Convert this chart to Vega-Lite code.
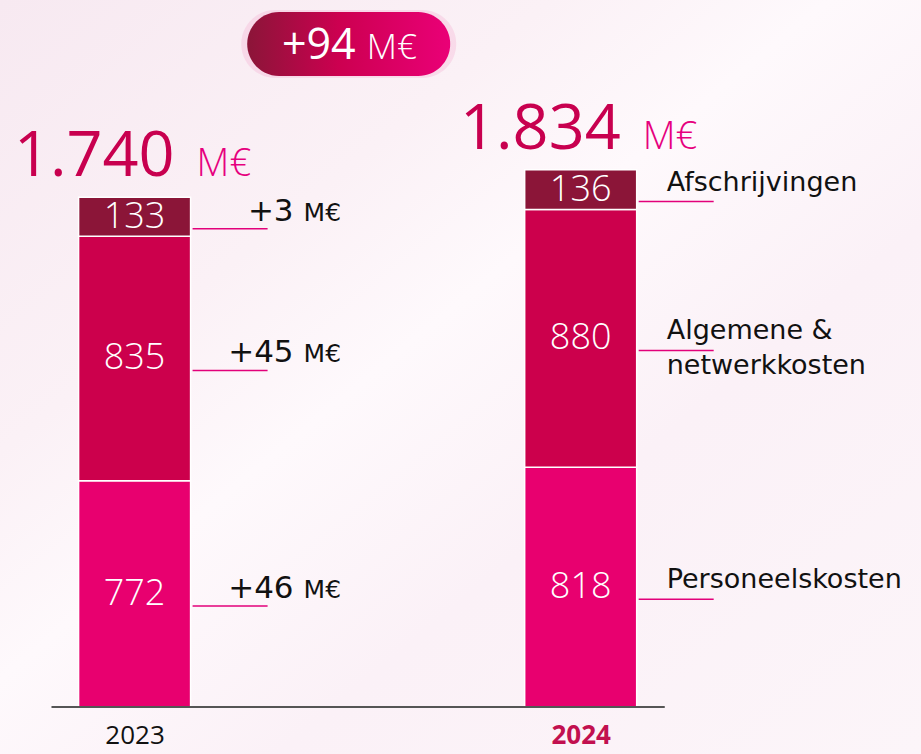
{
  "$schema": "https://vega.github.io/schema/vega-lite/v6.json",
  "width": 921,
  "height": 754,
  "autosize": "none",
  "padding": 0,
  "background": "#fbf2f7",
  "view": {
    "stroke": null,
    "fill": {
      "gradient": "linear", "x1": 0, "y1": 0, "x2": 1, "y2": 1,
      "stops": [
        {"offset": 0, "color": "#f7e9f1"},
        {"offset": 0.3, "color": "#fbf1f6"},
        {"offset": 0.45, "color": "#fef9fc"},
        {"offset": 0.65, "color": "#fbf1f7"},
        {"offset": 1, "color": "#fcf5f9"}
      ]
    }
  },
  "config": {
    "font": "Open Sans",
    "locale": {"number": {"decimal": ",", "thousands": ".", "grouping": [3], "currency": ["€", ""]}}
  },
  "datasets": {
    "costs": [
      {"year": 2023, "category": "Personeelskosten", "rank": 1, "value": 772, "delta": 46},
      {"year": 2023, "category": "Algemene &\nnetwerkkosten", "rank": 2, "value": 835, "delta": 45},
      {"year": 2023, "category": "Afschrijvingen", "rank": 3, "value": 133, "delta": 3},
      {"year": 2024, "category": "Personeelskosten", "rank": 1, "value": 818, "delta": null},
      {"year": 2024, "category": "Algemene &\nnetwerkkosten", "rank": 2, "value": 880, "delta": null},
      {"year": 2024, "category": "Afschrijvingen", "rank": 3, "value": 136, "delta": null}
    ],
    "change": [{"from": 2023, "to": 2024, "delta": 94}]
  },
  "data": {"name": "costs"},
  "layer": [
    {
      "mark": {"type": "bar", "size": 112, "stroke": "#ffffff", "strokeWidth": 1.5},
      "encoding": {
        "x": {
          "field": "year", "type": "quantitative",
          "scale": {"domain": [2022.7095, 2024.7517], "nice": false, "zero": false},
          "axis": {
            "values": [2023, 2024], "format": "d", "domain": false, "ticks": false, "grid": false,
            "title": null, "offset": -47, "labelPadding": 36, "labelBaseline": "alphabetic",
            "labelFontSize": 26, "labelFont": "Open Sans",
            "labelColor": {"expr": "datum.value == 2024 ? '#c2104f' : '#111111'"},
            "labelFontWeight": {"expr": "datum.value == 2024 ? 'bold' : 'normal'"}
          }
        },
        "y": {
          "field": "value", "type": "quantitative", "stack": "zero",
          "scale": {"domain": [-160.4, 2413], "nice": false, "zero": false},
          "axis": null
        },
        "color": {
          "field": "category", "type": "nominal", "legend": null,
          "scale": {
            "domain": ["Personeelskosten", "Algemene &\nnetwerkkosten", "Afschrijvingen"],
            "range": ["#e8006f", "#cc004c", "#8b1538"]
          }
        },
        "order": {"field": "rank", "type": "quantitative"}
      }
    },
    {
      "data": {"name": "change"},
      "mark": {"type": "rule", "color": "#555555", "strokeWidth": 2},
      "encoding": {
        "x": {"datum": 2022.8137, "type": "quantitative"},
        "x2": {"datum": 2024.1885},
        "y": {"datum": 0, "type": "quantitative"}
      }
    },
    {
      "transform": [
        {"stack": "value", "groupby": ["year"], "sort": [{"field": "rank", "order": "ascending"}], "as": ["y0", "y1"]},
        {"fold": ["y0", "y1"], "as": ["edge", "bound"]},
        {"aggregate": [{"op": "mean", "field": "bound", "as": "mid"}], "groupby": ["year", "category", "value", "rank", "delta"]}
      ],
      "encoding": {
        "x": {"field": "year", "type": "quantitative"},
        "y": {"field": "mid", "type": "quantitative"}
      },
      "layer": [
        {
          "mark": {"type": "rule", "color": "#e2007a", "strokeWidth": 1.5, "xOffset": 58, "x2Offset": 133, "yOffset": 12},
          "encoding": {"x2": {"field": "year"}}
        },
        {
          "mark": {"type": "text", "color": "#ffffff", "fontSize": 36, "fontWeight": 300, "baseline": "middle"},
          "encoding": {"text": {"field": "value", "type": "quantitative", "format": "d"}}
        },
        {
          "transform": [{"filter": "datum.delta != null"}],
          "mark": {"type": "text", "font": "DejaVu Sans", "color": "#111111", "fontSize": 31, "align": "right", "dx": 159, "dy": 4, "baseline": "alphabetic"},
          "encoding": {"text": {"field": "delta", "type": "quantitative", "format": "+d"}}
        },
        {
          "transform": [{"filter": "datum.delta != null"}],
          "mark": {"type": "text", "font": "DejaVu Sans", "color": "#111111", "fontSize": 25, "align": "left", "dx": 169, "dy": 4, "baseline": "alphabetic"},
          "encoding": {"text": {"value": "M€"}}
        },
        {
          "transform": [{"filter": "datum.year == 2024"}],
          "mark": {"type": "text", "font": "DejaVu Sans", "color": "#111111", "fontSize": 27, "align": "left", "dx": 86, "dy": 7, "baseline": "bottom", "lineBreak": "\n", "lineHeight": 35},
          "encoding": {"text": {"field": "category", "type": "nominal"}}
        }
      ]
    },
    {
      "transform": [{"aggregate": [{"op": "sum", "field": "value", "as": "total"}], "groupby": ["year"]}],
      "encoding": {
        "x": {"field": "year", "type": "quantitative"},
        "y": {"field": "total", "type": "quantitative"}
      },
      "layer": [
        {
          "mark": {"type": "text", "color": "#c8004f", "fontSize": 63, "align": "right", "dx": 40, "dy": -21, "baseline": "alphabetic"},
          "encoding": {"text": {"field": "total", "type": "quantitative", "format": ",d"}}
        },
        {
          "mark": {"type": "text", "color": "#e6007e", "fontSize": 38, "fontWeight": 300, "align": "left", "dx": 62, "dy": -21, "baseline": "alphabetic"},
          "encoding": {"text": {"value": "M€"}}
        }
      ]
    },
    {
      "data": {"name": "change"},
      "encoding": {
        "x": {"datum": 2023.48, "type": "quantitative"},
        "y": {"datum": 2263, "type": "quantitative"}
      },
      "layer": [
        {
          "mark": {
            "type": "point", "filled": true, "size": 46225, "opacity": 0.22, "fill": "#f08cc0", "strokeWidth": 0,
            "shape": "M -0.6847 -0.3153 L 0.6847 -0.3153 A 0.3153 0.3153 0 0 1 0.6847 0.3153 L -0.6847 0.3153 A 0.3153 0.3153 0 0 1 -0.6847 -0.3153 Z"
          }
        },
        {
          "mark": {
            "type": "point", "filled": true, "size": 41209, "opacity": 1, "strokeWidth": 0,
            "fill": {
              "gradient": "linear", "x1": 0, "y1": 0, "x2": 1, "y2": 0,
              "stops": [
                {"offset": 0, "color": "#8b1538"},
                {"offset": 0.45, "color": "#cc0050"},
                {"offset": 1, "color": "#ea0077"}
              ]
            },
            "shape": "M -0.6847 -0.3153 L 0.6847 -0.3153 A 0.3153 0.3153 0 0 1 0.6847 0.3153 L -0.6847 0.3153 A 0.3153 0.3153 0 0 1 -0.6847 -0.3153 Z"
          }
        },
        {
          "mark": {"type": "text", "color": "#ffffff", "fontSize": 43, "align": "right", "dx": 7, "dy": 15, "baseline": "alphabetic"},
          "encoding": {"text": {"field": "delta", "type": "quantitative", "format": "+d"}}
        },
        {
          "mark": {"type": "text", "color": "#ffffff", "fontSize": 35, "fontWeight": 300, "align": "left", "dx": 18, "dy": 15, "baseline": "alphabetic"},
          "encoding": {"text": {"value": "M€"}}
        }
      ]
    }
  ]
}
